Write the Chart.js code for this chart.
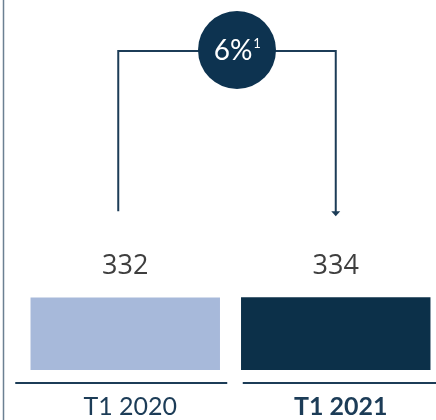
<!DOCTYPE html>
<html>
<head>
<meta charset="utf-8">
<script src="https://cdn.jsdelivr.net/npm/chart.js@4"></script>
<style>
  body { margin: 0; overflow: hidden; background: #fff; }
  #wrap { width: 436px; height: 420px; overflow: hidden; }
</style>
</head>
<body>
<div id="wrap"><canvas id="barChart" width="460" height="420"></canvas></div>
<script>
// data
var categories = ["T1 2020", "T1 2021"];
var values = [332, 334];
var barColors = ["#a7b9da", "#0c3049"];
var changeLabel = "6%";
var changeNote = "1";

var navy = "#1c3c57";

// extra drawing: side rule, baselines, value labels, bracket with bubble
var decorations = {
  id: 'decorations',
  afterDatasetsDraw: function (chart) {
    var ctx = chart.ctx;
    var bars = chart.getDatasetMeta(0).data;
    var area = chart.chartArea;
    ctx.save();

    // thin rule at the left edge
    ctx.strokeStyle = "#6b8092";
    ctx.lineWidth = 1.5;
    ctx.beginPath();
    ctx.moveTo(3.5, 0);
    ctx.lineTo(3.5, chart.height);
    ctx.stroke();

    // baseline under each bar
    ctx.strokeStyle = navy;
    ctx.lineWidth = 2;
    var baseY = area.bottom + 13;
    var segs = [[-110, 102], [-93, 120]];
    bars.forEach(function (b, i) {
      ctx.beginPath();
      ctx.moveTo(b.x + segs[i][0], baseY);
      ctx.lineTo(b.x + segs[i][1], baseY);
      ctx.stroke();
    });

    // value labels
    ctx.fillStyle = "#3e3e3e";
    ctx.font = "27px 'Open Sans'";
    ctx.textAlign = "center";
    ctx.textBaseline = "middle";
    bars.forEach(function (b, i) {
      ctx.fillText(values[i], b.x, b.y - 31);
    });

    // bracket
    var xl = bars[0].x - 7, xr = bars[1].x;
    var topY = 51;
    var endY = Math.min(bars[0].y, bars[1].y) - 86;
    ctx.strokeStyle = navy;
    ctx.lineWidth = 2;
    ctx.beginPath();
    ctx.moveTo(xl, endY);
    ctx.lineTo(xl, topY);
    ctx.lineTo(xr, topY);
    ctx.lineTo(xr, endY + 1);
    ctx.stroke();
    ctx.fillStyle = navy;
    ctx.beginPath();
    ctx.moveTo(xr - 4.5, endY);
    ctx.lineTo(xr + 4.5, endY);
    ctx.lineTo(xr, endY + 5);
    ctx.closePath();
    ctx.fill();

    // bubble
    var cx = (xl + xr) / 2 + 10, cy = 50;
    ctx.fillStyle = "#0d3350";
    ctx.beginPath();
    ctx.arc(cx, cy, 39, 0, Math.PI * 2);
    ctx.fill();
    ctx.fillStyle = "#ffffff";
    ctx.font = "28px Lato";
    ctx.textAlign = "center";
    ctx.fillText(changeLabel, cx - 4, cy + 1);
    var w = ctx.measureText(changeLabel).width;
    ctx.font = "13px Lato";
    ctx.textAlign = "left";
    ctx.fillText(changeNote, cx - 4 + w / 2 + 1, cy - 6);

    ctx.restore();
  }
};

new Chart(document.getElementById("barChart").getContext('2d'), {
  type: 'bar',
  data: {
    labels: categories,
    datasets: [{
      data: values,
      backgroundColor: barColors,
      borderWidth: 0,
      categoryPercentage: 1,
      barPercentage: 0.9
    }]
  },
  options: {
    responsive: false,
    animation: false,
    layout: { padding: { left: 20, right: 19, top: 10, bottom: 0 } },
    plugins: { legend: { display: false }, tooltip: { enabled: false } },
    scales: {
      y: { display: false, min: 0, max: 1650 },
      x: {
        grid: { display: false, drawTicks: false },
        border: { display: false },
        afterFit: function (scale) { scale.height = 50; },
        ticks: {
          padding: 22,
          labelOffset: 5,
          color: navy,
          font: function (c) {
            return c.index === 1
              ? { family: 'Lato', size: 25, weight: 'bold' }
              : { family: 'Lato', size: 25, weight: 'normal' };
          }
        }
      }
    }
  },
  plugins: [decorations]
});
</script>
</body>
</html>
